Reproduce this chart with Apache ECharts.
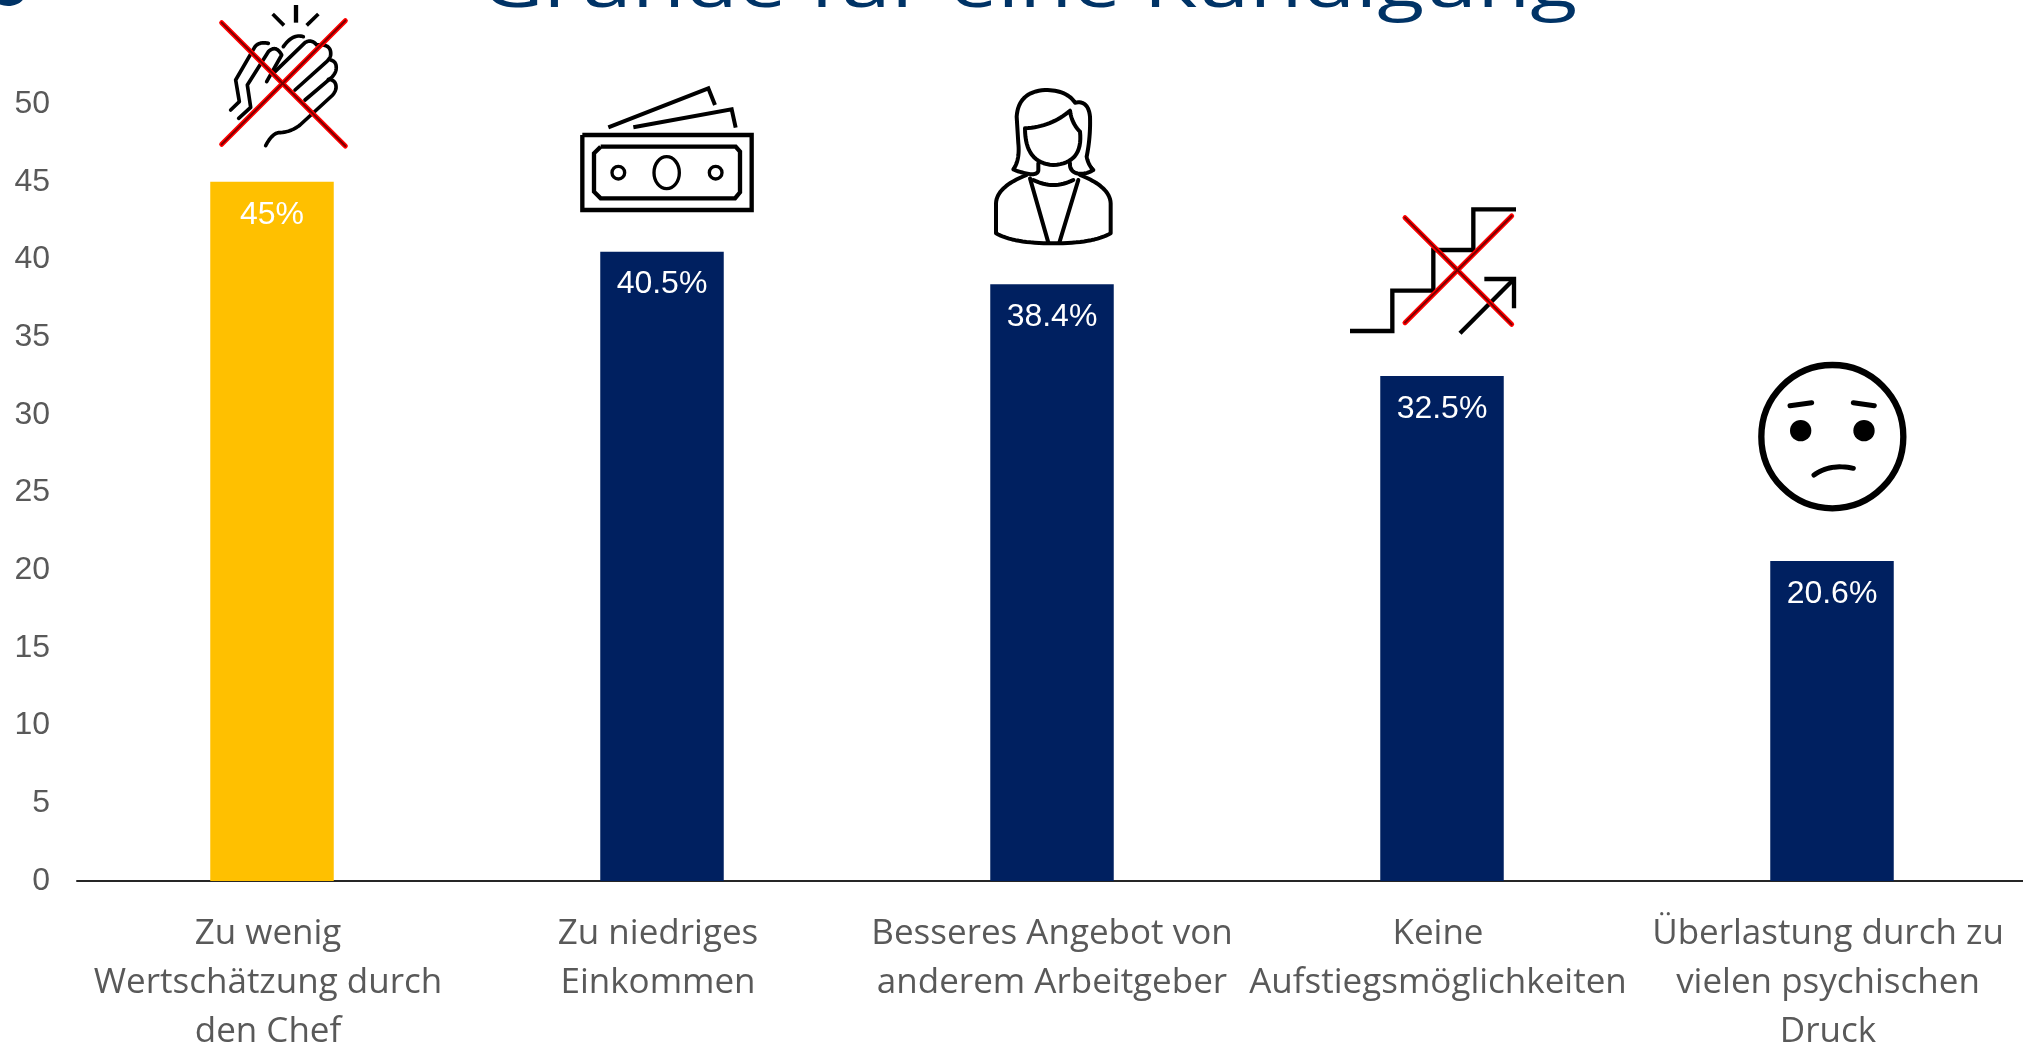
<!DOCTYPE html>
<html>
<head>
<meta charset="utf-8">
<title>Gründe für eine Kündigung</title>
<script src="https://cdn.jsdelivr.net/npm/echarts@6/dist/echarts.min.js"></script>
<style>html,body{margin:0;padding:0;background:#fff;overflow:hidden}#c{width:2023px;height:1048px}</style>
</head>
<body>
<div id="c"></div>
<script>
const titleText = 'Gründe für eine Kündigung';
const categories = [
  'Zu wenig\nWertschätzung durch\nden Chef',
  'Zu niedriges\nEinkommen',
  'Besseres Angebot von\nanderem Arbeitgeber',
  'Keine\nAufstiegsmöglichkeiten',
  'Überlastung durch zu\nvielen psychischen\nDruck'
];
const values = [45, 40.5, 38.4, 32.5, 20.6];
const highlightIndex = 0;

const NAVY = '#002060', GOLD = '#FFC000', TITLE = '#003366', GREY = '#595959', INK = '#000';

// Flatten a small M/L/Q/Z outline into polyline points for the graphic component.
function flatten(d) {
  const tok = d.match(/[MLQZ]|-?[\d.]+/g);
  const pts = [];
  let i = 0, cmd = '';
  while (i < tok.length) {
    if (/[MLQZ]/.test(tok[i])) { cmd = tok[i++]; }
    if (cmd === 'Z') { pts.push(pts[0].slice()); continue; }
    if (cmd === 'Q') {
      const p0 = pts[pts.length - 1];
      const c = [+tok[i], +tok[i + 1]], e = [+tok[i + 2], +tok[i + 3]];
      i += 4;
      for (let k = 1; k <= 16; k++) {
        const t = k / 16, u = 1 - t;
        pts.push([u * u * p0[0] + 2 * u * t * c[0] + t * t * e[0], u * u * p0[1] + 2 * u * t * c[1] + t * t * e[1]]);
      }
    } else {
      pts.push([+tok[i], +tok[i + 1]]);
      i += 2;
    }
  }
  return pts;
}
function stroke(d, w, cap, join) {
  return { type: 'polyline', shape: { points: flatten(d) }, style: { fill: 'none', stroke: INK, lineWidth: w, lineCap: cap, lineJoin: join } };
}
const line = (d, w) => stroke(d, w, 'butt', 'miter');
const round = (d, w) => stroke(d, w, 'round', 'round');
function cross(a, b) {
  const mk = (p, c, w) => ({ type: 'line', shape: { x1: p[0], y1: p[1], x2: p[2], y2: p[3] }, style: { stroke: c, lineWidth: w, lineCap: 'round' } });
  return [mk(a, '#ff0000', 15), mk(b, '#ff0000', 15), mk(a, '#7a0000', 6), mk(b, '#7a0000', 6)];
}
function icon(x, y, children) {
  return { type: 'group', x, y, scaleX: 1 / 3, scaleY: 1 / 3, silent: true, z: 10, children };
}
function ring(cx, cy, rx, ry, w) {
  return { type: 'ellipse', shape: { cx, cy, rx, ry }, style: { fill: 'none', stroke: INK, lineWidth: w } };
}

const handIcon = icon(200, 0, [
  line('M288,15 L288,68', 13), line('M218,42 L252,76', 11), line('M355,42 L320,76', 11),
  round('M92,330 L118,305 L107,240 L165,140 Q178,124 205,130', 11),
  round('M116,355 L152,322 L142,255 L205,155 Q228,133 245,165 L200,245', 11),
  round('M250,140 Q278,100 310,110', 11),
  round('M225,215 L315,128 Q335,116 350,135 Q395,130 392,165 Q390,175 380,185 L285,270', 11),
  round('M392,180 Q412,185 408,210 Q405,222 395,232 L315,300', 11),
  round('M385,238 Q410,240 408,265 Q405,278 395,288 L300,375 Q270,398 235,398 Q215,402 197,437', 11),
  ...cross([65, 68, 436, 438], [436, 62, 65, 433])
]);
const moneyIcon = icon(570, 75, [
  line('M37,180 L545,180 L545,405 L37,405 Z', 13),
  line('M92,215 L497,215 L510,230 L510,352 L495,370 L92,370 L72,350 L72,235 Z', 13),
  ring(290, 293, 38, 48, 10), ring(145, 293, 19, 19, 10), ring(437, 293, 19, 19, 10),
  line('M115,157 L415,40 L435,90', 12), line('M190,157 L485,103 L497,158', 12)
]);
const womanIcon = icon(970, 80, [
  round('M205,250 L205,270 Q205,282 185,283 Q150,278 130,268 Q150,240 145,190 L140,110 Q145,35 225,30 Q290,30 315,68 Q355,60 360,110 Q362,170 350,230 Q355,255 370,270 Q345,285 320,280 Q298,272 300,250', 12),
  round('M165,145 Q245,140 300,92 Q305,130 330,155 Q340,250 250,255 Q165,250 165,145 Z', 12),
  round('M190,300 Q250,330 310,300', 12),
  round('M170,285 Q80,320 78,370 L78,460 Q130,490 250,490 Q370,490 422,460 L422,370 Q420,320 330,285', 12),
  round('M180,295 L235,488', 12), round('M325,300 L268,488', 12)
]);
const stairsIcon = icon(1340, 195, [
  line('M30,408 L157,408 L157,287 L280,287 L280,165 L400,165 L400,43 L528,43', 13),
  line('M360,415 L522,252', 13), line('M433,252 L522,252 L522,340', 13),
  ...cross([195, 68, 515, 388], [515, 63, 195, 383])
]);
const faceIcon = icon(1750, 355, [
  ring(247, 245, 213, 215, 19),
  { type: 'circle', shape: { cx: 152, cy: 227, r: 32 }, style: { fill: INK } },
  { type: 'circle', shape: { cx: 342, cy: 227, r: 32 }, style: { fill: INK } },
  round('M120,152 L185,143', 15), round('M310,143 L373,152', 15), round('M192,360 Q240,325 310,340', 15)
]);

const chart = echarts.init(document.getElementById('c'), null, { renderer: 'canvas' });
chart.setOption({
  animation: false,
  backgroundColor: '#fff',
  grid: { left: 77, top: 104, width: 1950, height: 777, containLabel: false, outerBoundsMode: 'none' },
  xAxis: {
    type: 'category',
    data: categories.map((c, i) => i === 2 ? { value: c, textStyle: { padding: [0, 0, 0, 0] } } : c),
    axisTick: { show: false },
    axisLine: { lineStyle: { color: '#262626', width: 2 } },
    axisLabel: {
      interval: 0, margin: 29, lineHeight: 49, padding: [0, 8, 0, 0],
      fontFamily: 'Open Sans', fontSize: 35, color: GREY, align: 'center', verticalAlign: 'top'
    }
  },
  yAxis: {
    type: 'value', min: 0, max: 50, interval: 5,
    splitLine: { show: false }, axisLine: { show: false }, axisTick: { show: false },
    axisLabel: { margin: 27, verticalAlign: 'middle', lineHeight: 36, padding: [4, 0, 0, 0], fontFamily: 'Liberation Sans', fontSize: 32, color: GREY }
  },
  series: [{
    type: 'bar', barWidth: 123.5, z: 1,
    data: values.map((v, i) => ({ value: v, itemStyle: { color: i === highlightIndex ? GOLD : NAVY } })),
    label: {
      show: true, position: 'insideTop', distance: 17,
      fontFamily: 'Liberation Sans', fontSize: 32, color: '#fff',
      formatter: p => p.value + '%'
    }
  }],
  graphic: [
    { type: 'ellipse', shape: { cx: 8, cy: -6, rx: 17, ry: 12 }, style: { fill: TITLE }, silent: true },
    {
      type: 'group', x: 1029, y: 22, scaleY: 0.78, silent: true,
      children: [{
        type: 'text',
        style: { text: titleText, x: 0, y: 0, align: 'center', verticalAlign: 'bottom', fill: TITLE, fontFamily: 'Open Sans', fontSize: 86.5 }
      }]
    },
    handIcon, moneyIcon, womanIcon, stairsIcon, faceIcon
  ]
});
</script>
</body>
</html>
